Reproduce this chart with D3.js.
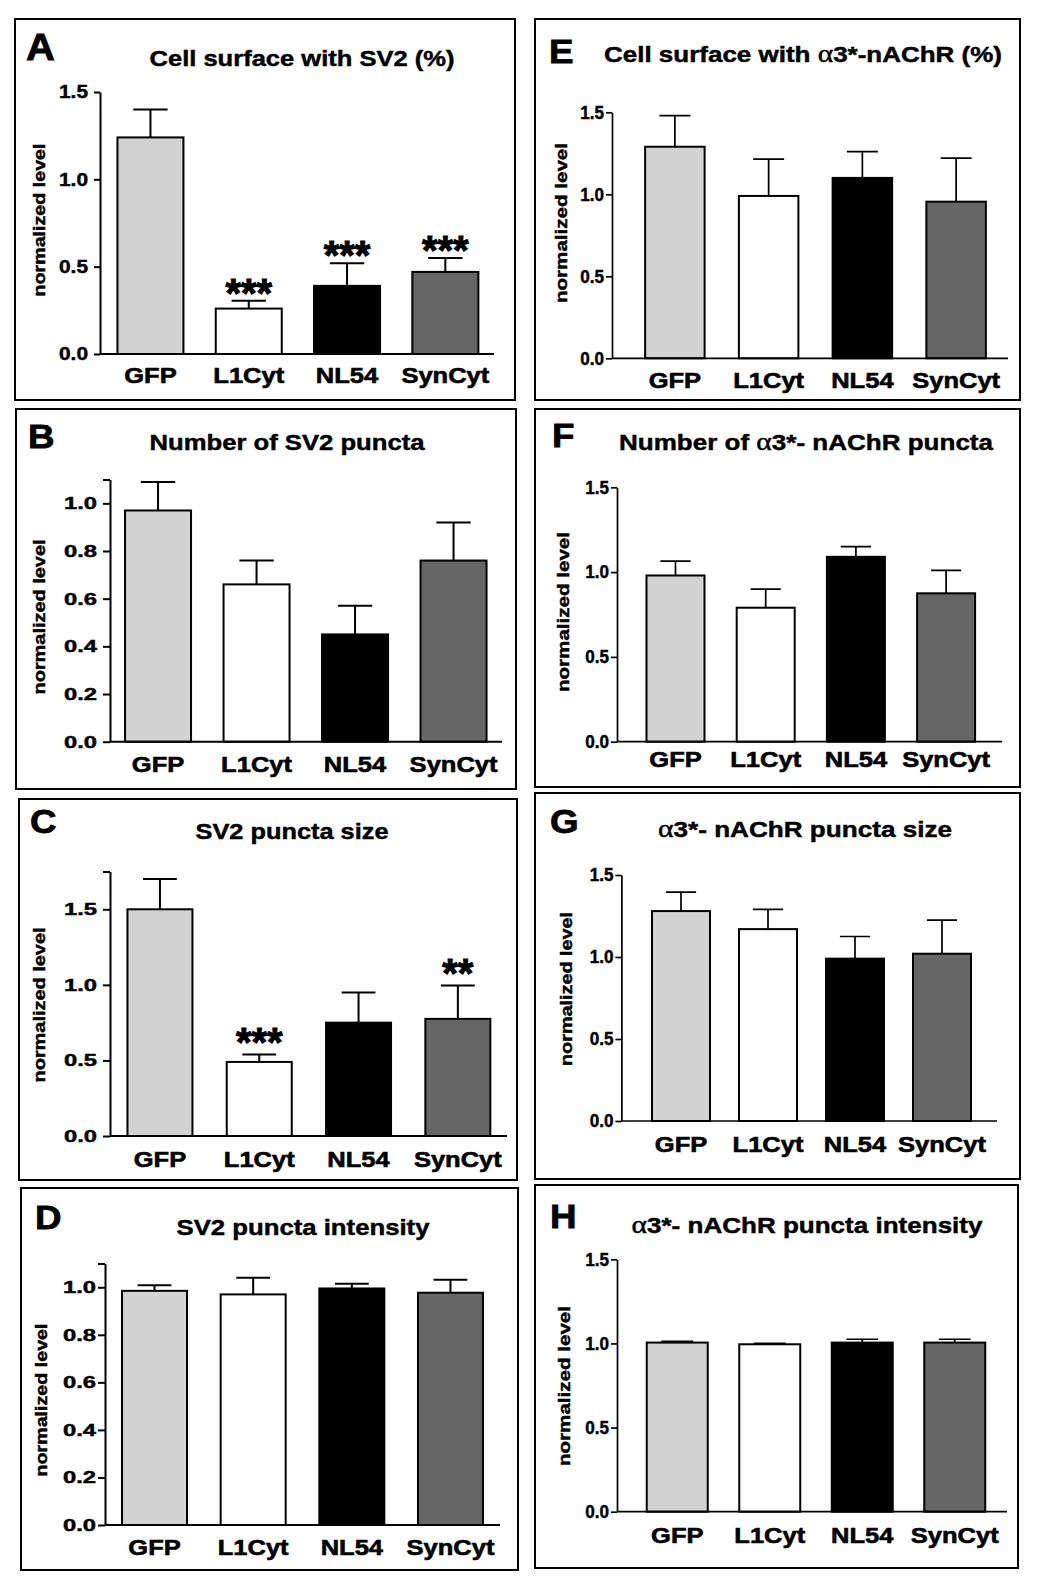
<!DOCTYPE html>
<html><head><meta charset="utf-8">
<script src="https://cdn.jsdelivr.net/npm/d3@7"></script>
<style>
body{margin:0;background:#fff}
svg{display:block}
text{font-family:"Liberation Sans",Arial,Helvetica,sans-serif;font-weight:bold;fill:#000;stroke:#000;stroke-width:0.45px;paint-order:stroke}
</style>
</head><body>
<svg id="fig" width="1050" height="1586"></svg>
<script>
// ---------- DATA ----------
const categories = ["GFP", "L1Cyt", "NL54", "SynCyt"];
const panelLetters = ["A", "B", "C", "D", "E", "F", "G", "H"];
const panelTitles = [
  "Cell surface with SV2 (%)",
  "Number of SV2 puncta",
  "SV2 puncta size",
  "SV2 puncta intensity",
  "Cell surface with α3*-nAChR (%)",
  "Number of α3*- nAChR puncta",
  "α3*- nAChR puncta size",
  "α3*- nAChR puncta intensity"
];
const yAxisLabel = "normalized level";

const meanA = [1.24, 0.26, 0.39, 0.47];
const semA  = [0.16, 0.045, 0.13, 0.08];
const starsA = ["", "***", "***", "***"];

const meanB = [0.97, 0.66, 0.45, 0.76];
const semB  = [0.12, 0.10, 0.12, 0.16];
const starsB = ["", "", "", ""];

const meanC = [1.50, 0.49, 0.75, 0.775];
const semC  = [0.20, 0.05, 0.20, 0.22];
const starsC = ["", "***", "", "**"];

const meanD = [0.985, 0.97, 0.995, 0.977];
const semD  = [0.023, 0.07, 0.02, 0.055];
const starsD = ["", "", "", ""];

const meanE = [1.29, 0.99, 1.10, 0.955];
const semE  = [0.19, 0.225, 0.16, 0.265];
const starsE = ["", "", "", ""];

const meanF = [0.98, 0.79, 1.09, 0.875];
const semF  = [0.085, 0.11, 0.06, 0.135];
const starsF = ["", "", "", ""];

const meanG = [1.28, 1.17, 0.99, 1.02];
const semG  = [0.115, 0.12, 0.135, 0.205];
const starsG = ["", "", "", ""];

const meanH = [1.005, 0.995, 1.005, 1.005];
const semH  = [0.008, 0.006, 0.02, 0.02];
const starsH = ["", "", "", ""];

const yTicksHalf = [0, 0.5, 1.0, 1.5];
const yTickLabelsHalf = ["0.0", "0.5", "1.0", "1.5"];
const yTicksFifth = [0, 0.2, 0.4, 0.6, 0.8, 1.0, 1.1];
const yTickLabelsFifth = ["0.0", "0.2", "0.4", "0.6", "0.8", "1.0", ""];
const yTicksSize = [0, 0.5, 1.0, 1.5, 1.75];
const yTickLabelsSize = ["0.0", "0.5", "1.0", "1.5", ""];

const yMaxes = [1.5, 1.1, 1.75, 1.1, 1.5, 1.5, 1.5, 1.5];

const barColors = ["#d2d2d2", "#ffffff", "#000000", "#666666"];

// ---------- LAYOUT (positions / styles) ----------
const layout = [
  {box:[15,19,515,400],  letter:[26,60,37],  title:[302,66,305], axisX:100, y0:354,   yTop:92,    range:[101.3,494.5], bw:66, xEnd:494, catY:383,   ylab:[39,220,153],  tk:{fs:18,sx:1.16,gap:6,len:6}, starOff:17, sw:2},
  {box:[16,409,516,789], letter:[28,448,34], title:[287,450,275], axisX:110, y0:741.7, yTop:479.5, range:[108.8,502.8], bw:66, xEnd:502, catY:771.7, ylab:[39,617,155],  tk:{fs:17,sx:1.4,gap:6,len:7},  starOff:17, sw:2},
  {box:[19,799,517,1180],letter:[30,833,34], title:[292,839,193], axisX:110, y0:1136,  yTop:871.5, range:[110.3,507.5], bw:65, xEnd:507, catY:1166.7,ylab:[39,1005,155], tk:{fs:17,sx:1.4,gap:6,len:7},  starOff:21.5, sw:2},
  {box:[21,1188,518,1570],letter:[35,1229,34],title:[303,1235,253],axisX:105, y0:1525,  yTop:1263.5,range:[105.2,499.8], bw:65, xEnd:500, catY:1555,  ylab:[41,1400,153], tk:{fs:17,sx:1.4,gap:2,len:7},  starOff:17, sw:2},
  {box:[535,19,1020,400], letter:[549,63,34], title:[803,62,398], axisX:612, y0:358.3, yTop:112.3, range:[628,1003],   bw:59.5, xEnd:1008, catY:388,  ylab:[561,223,160], tk:{fs:18,sx:0.95,gap:2,len:6}, starOff:17, sw:1.7},
  {box:[535,409,1020,787],letter:[552,447,34],title:[806,450,374], axisX:617, y0:741.7, yTop:487.3, range:[630.4,991.2], bw:58, xEnd:1002, catY:766.7, ylab:[563,612,160], tk:{fs:18,sx:0.95,gap:2,len:6}, starOff:17, sw:1.7},
  {box:[535,793,1020,1179],letter:[550,833,34],title:[805,837,294],axisX:621.4, y0:1121, yTop:875,   range:[637.5,985.5], bw:58, xEnd:997, catY:1151.7, ylab:[566,989,154], tk:{fs:18,sx:0.95,gap:2,len:6}, starOff:17, sw:1.7},
  {box:[535,1185,1018,1568],letter:[550,1228,34],title:[807,1233,351],axisX:617, y0:1511.7,yTop:1259.3,range:[631,1001],  bw:61, xEnd:1007, catY:1543,  ylab:[564,1386,160], tk:{fs:18,sx:0.95,gap:2,len:6}, starOff:17, sw:1.7}
];

const means = [meanA, meanB, meanC, meanD, meanE, meanF, meanG, meanH];
const sems  = [semA, semB, semC, semD, semE, semF, semG, semH];
const stars = [starsA, starsB, starsC, starsD, starsE, starsF, starsG, starsH];
const ticks = [yTicksHalf, yTicksFifth, yTicksSize, yTicksFifth, yTicksHalf, yTicksHalf, yTicksHalf, yTicksHalf];
const tickLabels = [yTickLabelsHalf, yTickLabelsFifth, yTickLabelsSize, yTickLabelsFifth, yTickLabelsHalf, yTickLabelsHalf, yTickLabelsHalf, yTickLabelsHalf];

// ---------- DRAW ----------
const svg = d3.select("#fig");

layout.forEach((L, pi) => {
  const g = svg.append("g");
  const [bx0, by0, bx1, by1] = L.box;
  g.append("rect").attr("x", bx0).attr("y", by0).attr("width", bx1 - bx0).attr("height", by1 - by0)
    .attr("fill", "none").attr("stroke", "#000").attr("stroke-width", 2);

  // panel letter
  g.append("text").attr("transform", `translate(${L.letter[0]},${L.letter[1]}) scale(1.08,1)`)
    .attr("font-size", L.letter[2]).style("stroke-width", "0.8px").text(panelLetters[pi]);

  // title
  const t = g.append("text").attr("x", L.title[0] - L.title[2] / 2).attr("y", L.title[1])
    .attr("font-size", 22).attr("textLength", L.title[2]).attr("lengthAdjust", "spacingAndGlyphs");
  const parts = panelTitles[pi].split("α");
  parts.forEach((p, k) => {
    if (k > 0) t.append("tspan").style("font-family", "'Liberation Serif','DejaVu Serif',serif").style("font-weight", "normal").attr("font-size", 25).text("α");
    if (p) t.append("tspan").text(p);
  });

  // scales
  const y = d3.scaleLinear().domain([0, yMaxes[pi]]).range([L.y0, L.yTop]);
  const step = (L.range[1] - L.range[0]) / categories.length;
  const pad = 1 - L.bw / step;
  const x = d3.scaleBand().domain(categories).range(L.range).paddingInner(pad).paddingOuter(pad / 2);

  // bars
  const data = categories.map((c, i) => ({c, m: means[pi][i], s: sems[pi][i], st: stars[pi][i], col: barColors[i]}));
  g.selectAll("rect.bar").data(data).enter().append("rect").attr("class", "bar")
    .attr("x", d => x(d.c)).attr("width", x.bandwidth())
    .attr("y", d => y(d.m)).attr("height", d => y(0) - y(d.m))
    .attr("fill", d => d.col).attr("stroke", "#000").attr("stroke-width", 2);

  // error bars (upper only)
  const capW = x.bandwidth() * 0.52;
  g.selectAll("path.err").data(data).enter().append("path").attr("class", "err")
    .attr("d", d => {
      const cx = x(d.c) + x.bandwidth() / 2;
      return `M${cx},${y(d.m)}V${y(d.m + d.s)}M${cx - capW / 2},${y(d.m + d.s)}H${cx + capW / 2}`;
    })
    .attr("fill", "none").attr("stroke", "#000").attr("stroke-width", L.sw);

  // significance stars
  g.selectAll("text.star").data(data.filter(d => d.st)).enter().append("text").attr("class", "star")
    .attr("x", d => x(d.c) + x.bandwidth() / 2)
    .attr("y", d => y(d.m + d.s) - L.starOff + 0.57 * 40)
    .attr("text-anchor", "middle").attr("font-size", 40).style("stroke-width", "1px").text(d => d.st);

  // y axis
  const ya = g.append("g").attr("transform", `translate(${L.axisX},0)`)
    .call(d3.axisLeft(y).tickValues(ticks[pi]).tickSizeOuter(0).tickSizeInner(L.tk.len)
      .tickFormat((d, i) => tickLabels[pi][i]));
  ya.selectAll("path.domain").attr("stroke", "#000").attr("stroke-width", L.sw);
  ya.selectAll(".tick line").attr("stroke", "#000").attr("stroke-width", L.sw);
  ya.selectAll(".tick text")
    .attr("x", -(L.tk.len + L.tk.gap) / L.tk.sx)
    .attr("transform", `scale(${L.tk.sx},1)`)
    .attr("font-size", L.tk.fs).attr("font-family", "'Liberation Sans',Arial,sans-serif")
    .attr("font-weight", "bold").attr("fill", "#000").attr("stroke", "#000").attr("stroke-width", 0.4);

  // x axis line
  g.append("line").attr("x1", L.axisX).attr("x2", L.xEnd).attr("y1", y(0)).attr("y2", y(0))
    .attr("stroke", "#000").attr("stroke-width", L.sw);

  // category labels
  g.selectAll("text.cat").data(categories).enter().append("text").attr("class", "cat")
    .attr("transform", c => `translate(${x(c) + x.bandwidth() / 2},${L.catY}) scale(1.16,1)`)
    .attr("text-anchor", "middle").attr("font-size", 22).style("stroke-width", "0.6px").text(c => c);

  // y label
  g.append("text")
    .attr("transform", `translate(${L.ylab[0] + 6},${L.ylab[1]}) rotate(-90)`)
    .attr("x", -L.ylab[2] / 2).attr("y", 0)
    .attr("font-size", 17).attr("textLength", L.ylab[2]).attr("lengthAdjust", "spacingAndGlyphs")
    .text(yAxisLabel);
});
</script>
</body></html>
